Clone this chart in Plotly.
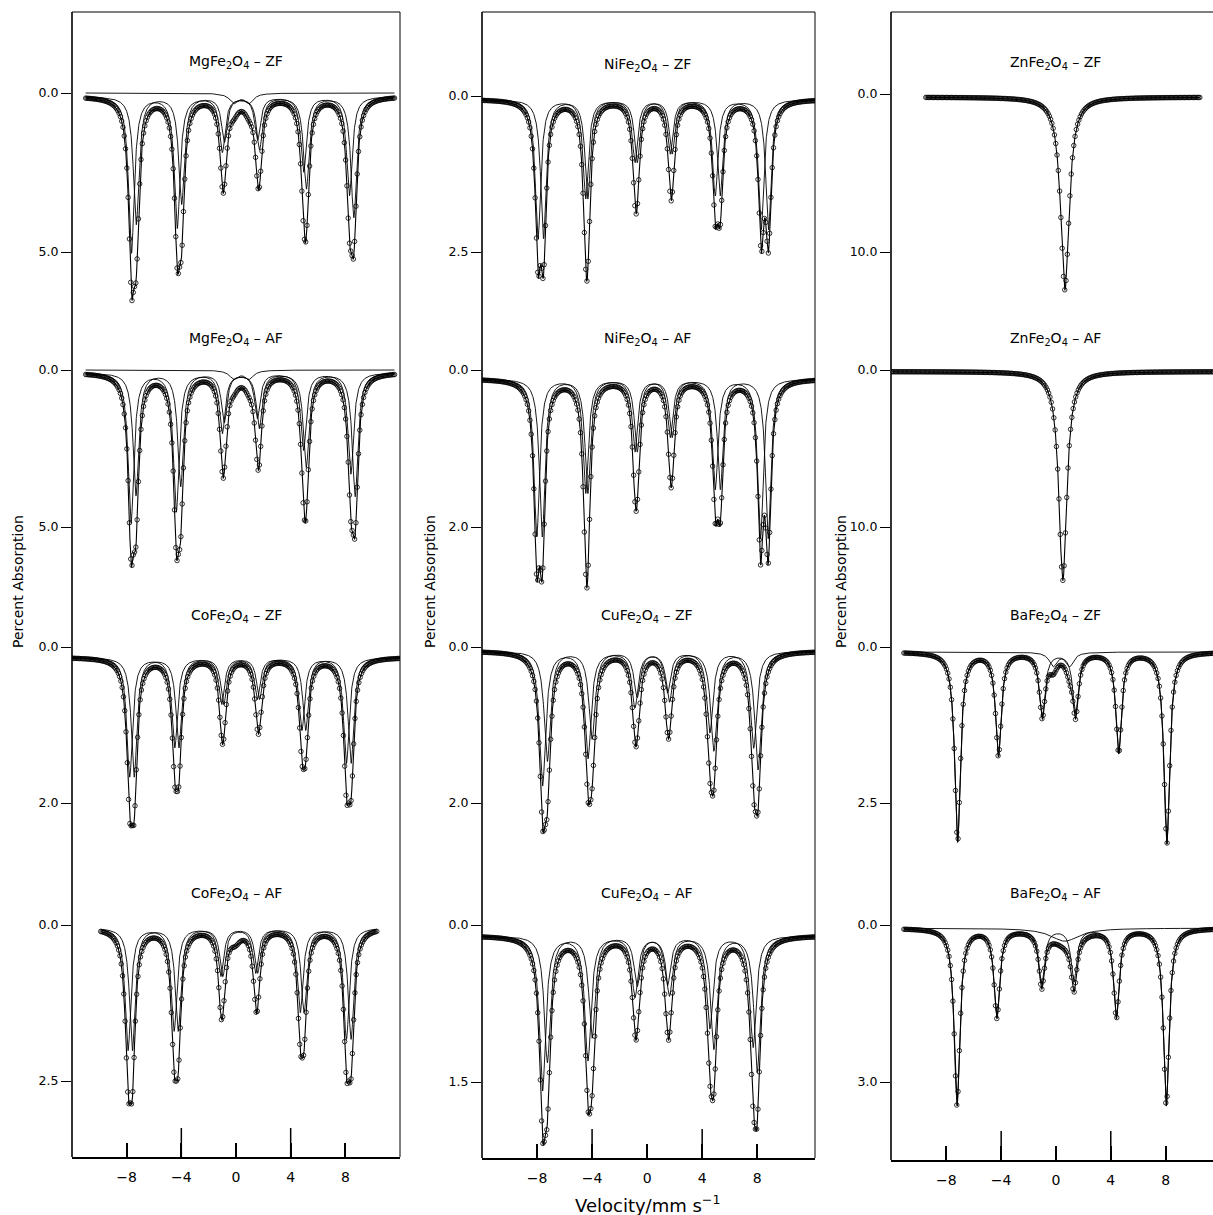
import numpy as np
import plotly.graph_objects as go

W, H = 1213, 1215
FONT = "DejaVu Sans"
DASH = "\u00a0\u2013\u00a0"

# ---------------- data ----------------
TITLES = [
    ["MgFe<sub>2</sub>O<sub>4</sub>" + DASH + "ZF", "MgFe<sub>2</sub>O<sub>4</sub>" + DASH + "AF",
     "CoFe<sub>2</sub>O<sub>4</sub>" + DASH + "ZF", "CoFe<sub>2</sub>O<sub>4</sub>" + DASH + "AF"],
    ["NiFe<sub>2</sub>O<sub>4</sub>" + DASH + "ZF", "NiFe<sub>2</sub>O<sub>4</sub>" + DASH + "AF",
     "CuFe<sub>2</sub>O<sub>4</sub>" + DASH + "ZF", "CuFe<sub>2</sub>O<sub>4</sub>" + DASH + "AF"],
    ["ZnFe<sub>2</sub>O<sub>4</sub>" + DASH + "ZF", "ZnFe<sub>2</sub>O<sub>4</sub>" + DASH + "AF",
     "BaFe<sub>2</sub>O<sub>4</sub>" + DASH + "ZF", "BaFe<sub>2</sub>O<sub>4</sub>" + DASH + "AF"],
]
# percent-absorption tick values of each spectrum
YTICKS = [[[0.0, 5.0], [0.0, 5.0], [0.0, 2.0], [0.0, 2.5]],
          [[0.0, 2.5], [0.0, 2.0], [0.0, 2.0], [0.0, 1.5]],
          [[0.0, 10.0], [0.0, 10.0], [0.0, 2.5], [0.0, 3.0]]]
VEL_TICKS = [-8, -4, 0, 4, 8]
VEL_LONG_TICKS = [-4, 4]

# velocity span of each recorded spectrum (mm/s)
V_SPAN = [[(-11.0, 11.6), (-11.0, 11.6), (-12.0, 12.0), (-9.9, 10.3)],
          [(-12.0, 12.2), (-12.0, 12.2), (-12.0, 12.2), (-12.0, 12.2)],
          [(-9.5, 10.5), (-12.0, 11.5), (-11.1, 11.5), (-11.1, 11.5)]]
# off-resonance absorption level
BASELINE = [[0.10, 0.08, 0.13, 0.04], [0.05, 0.11, 0.05, 0.10], [0.20, 0.10, 0.08, 0.06]]
# Lorentzian full width (mm/s)
LINE_W = [[0.50, 0.50, 0.50, 0.50], [0.48, 0.48, 0.55, 0.55], [0.75, 0.70, 0.50, 0.50]]
# fraction of each line given to sextet A
SHARE_A = [[0.45, 0.45, 0.50, 0.50], [0.50, 0.50, 0.45, 0.45], [1.0, 1.0, 1.0, 1.0]]

# line positions of sub-spectra A and B (mm/s) and total absorption at each line (%)
MG_ZF_A = [-7.30, -3.98, -0.85, 1.58, 4.95, 8.30]
MG_ZF_B = [-7.65, -4.30, -1.00, 1.72, 5.15, 8.62]
MG_ZF_D = [6.15, 5.50, 3.15, 3.05, 4.70, 5.05]
MG_AF_A = [-7.32, -4.05, -0.86, 1.56, 4.94, 8.40]
MG_AF_B = [-7.68, -4.37, -1.00, 1.70, 5.14, 8.72]
MG_AF_D = [5.85, 5.85, 3.45, 3.20, 4.85, 5.20]
CO_ZF_A = [-7.45, -4.18, -0.90, 1.56, 4.82, 8.08]
CO_ZF_B = [-7.78, -4.48, -1.05, 1.72, 5.10, 8.42]
CO_ZF_D = [2.28, 1.85, 1.25, 1.12, 1.57, 2.00]
CO_AF_A = [-7.58, -4.23, -0.97, 1.44, 4.70, 8.08]
CO_AF_B = [-7.90, -4.53, -1.11, 1.58, 4.98, 8.42]
CO_AF_D = [2.85, 2.50, 1.53, 1.42, 2.13, 2.50]
NI_ZF_A = [-7.93, -4.46, -0.88, 1.68, 4.95, 8.29]
NI_ZF_B = [-7.53, -4.31, -0.72, 1.82, 5.31, 8.82]
NI_ZF_D = [2.70, 2.97, 1.89, 1.68, 2.05, 1.95]
NI_AF_A = [-8.02, -4.46, -0.88, 1.68, 4.95, 8.24]
NI_AF_B = [-7.62, -4.31, -0.72, 1.82, 5.32, 8.80]
NI_AF_D = [2.50, 2.78, 1.80, 1.50, 1.90, 1.85]
CU_ZF_A = [-7.25, -4.00, -0.72, 1.48, 4.56, 7.74]
CU_ZF_B = [-7.60, -4.30, -0.88, 1.62, 4.85, 8.06]
CU_ZF_D = [2.30, 2.00, 1.28, 1.18, 1.89, 2.13]
CU_AF_A = [-7.25, -4.00, -0.72, 1.48, 4.56, 7.70]
CU_AF_B = [-7.60, -4.30, -0.88, 1.62, 4.85, 8.00]
CU_AF_D = [2.03, 1.79, 1.10, 1.10, 1.66, 1.94]
ZN_ZF_A = [0.65]
ZN_ZF_D = [12.4]
ZN_AF_A = [0.50]
ZN_AF_D = [13.4]
BA_ZF_A = [-7.18, -4.20, -1.00, 1.43, 4.58, 8.09]
BA_ZF_D = [3.13, 1.76, 1.16, 1.16, 1.71, 3.16]
BA_AF_A = [-7.22, -4.31, -1.04, 1.31, 4.41, 8.05]
BA_AF_D = [3.46, 1.79, 1.23, 1.29, 1.79, 3.46]

# central (paramagnetic) components: positions, depths, width
MG_ZF_X = ([-0.15, 0.95], [0.30, 0.30], 0.8)
MG_AF_X = ([-0.15, 0.95], [0.27, 0.27], 0.8)
CO_AF_X = ([-0.05], [0.15], 0.9)
BA_ZF_X = ([-0.20, 1.00], [0.22, 0.22], 0.7)
BA_AF_X = ([0.65], [0.25], 2.5)

# table built from the arrays: (A lines, B lines, depths, central comp, draw central, central from zero)
SPECTRA = [
    [(MG_ZF_A, MG_ZF_B, MG_ZF_D, MG_ZF_X, True, True),
     (MG_AF_A, MG_AF_B, MG_AF_D, MG_AF_X, True, True),
     (CO_ZF_A, CO_ZF_B, CO_ZF_D, None, False, False),
     (CO_AF_A, CO_AF_B, CO_AF_D, CO_AF_X, False, False)],
    [(NI_ZF_A, NI_ZF_B, NI_ZF_D, None, False, False),
     (NI_AF_A, NI_AF_B, NI_AF_D, None, False, False),
     (CU_ZF_A, CU_ZF_B, CU_ZF_D, None, False, False),
     (CU_AF_A, CU_AF_B, CU_AF_D, None, False, False)],
    [(ZN_ZF_A, None, ZN_ZF_D, None, False, False),
     (ZN_AF_A, None, ZN_AF_D, None, False, False),
     (BA_ZF_A, None, BA_ZF_D, BA_ZF_X, True, False),
     (BA_AF_A, None, BA_AF_D, BA_AF_X, True, False)],
]

# ---------------- layout constants (pixels) ----------------
PANEL_X = [(72, 400), (482, 815), (891, 1213)]
X_RANGE = [(-12.0, 12.0), (-12.0, 12.2), (-12.04, 11.46)]
HAS_RIGHT = [True, True, False]
PANEL_TOP = 12
PANEL_BOTTOM = [1157, 1158, 1160]
ZERO_PX = [[93, 370, 647, 925], [96, 370, 647, 925], [94, 370, 647, 925]]
TICK_PX = [[252, 527, 803, 1081], [252, 527, 803, 1082], [252, 527, 803, 1082]]
YTITLE_X = [18, 430, 841]
CHANNEL = 0.094


def lor(v, pos, depth, width):
    v = np.asarray(v, float)[:, None]
    pos = np.asarray(pos, float)[None, :]
    depth = np.asarray(depth, float)[None, :]
    return (depth / (1.0 + ((v - pos) / (0.5 * width)) ** 2)).sum(axis=1)


def px_x(p):
    return p / W


def px_y(p):
    return 1 - p / H


fig = go.Figure()
layout = dict(width=W, height=H, autosize=False, margin=dict(l=0, r=0, t=0, b=0),
              paper_bgcolor="white", plot_bgcolor="rgba(0,0,0,0)", showlegend=False,
              font=dict(family=FONT, color="black", size=12))
shapes, annotations = [], []

for c in range(3):
    xname = "x" if c == 0 else f"x{c + 1}"
    xkey = "xaxis" if c == 0 else f"xaxis{c + 1}"
    bottom_n = c * 4 + 4
    left, right = PANEL_X[c]
    layout[xkey] = dict(
        domain=[px_x(left), px_x(right)], range=list(X_RANGE[c]), anchor=f"y{bottom_n}",
        tickmode="array", tickvals=VEL_TICKS,
        ticktext=[("\u2212" + str(-t)) if t < 0 else str(t) for t in VEL_TICKS],
        ticks="inside", ticklen=14, tickwidth=1.5, tickcolor="black",
        showline=True, linewidth=2, linecolor="black", showgrid=False, zeroline=False,
        tickfont=dict(size=14, family=FONT), ticklabelstandoff=6)

    for r in range(4):
        n = c * 4 + r + 1
        yname = "y" if n == 1 else f"y{n}"
        ykey = "yaxis" if n == 1 else f"yaxis{n}"
        ticks = YTICKS[c][r]
        zero = ZERO_PX[c][r]
        ppu = (TICK_PX[c][r] - zero) / ticks[1]
        top_px = PANEL_TOP if r == 0 else zero - 80
        bot_px = PANEL_BOTTOM[c] if r == 3 else zero + 240
        layout[ykey] = dict(
            domain=[px_y(bot_px), px_y(top_px)],
            range=[(bot_px - zero) / ppu, (top_px - zero) / ppu],
            anchor=xname, tickmode="array", tickvals=ticks,
            ticktext=[f"{t:.1f}" for t in ticks],
            ticks="outside", ticklen=10, tickwidth=1.3, tickcolor="black",
            showline=False, showgrid=False, zeroline=False,
            tickfont=dict(size=12.5, family=FONT))

        a_pos, b_pos, depths, central, draw_central, central_zero = SPECTRA[c][r]
        base = BASELINE[c][r]
        w = LINE_W[c][r]
        share = SHARE_A[c][r]
        A = np.array(a_pos, float)
        B = None if b_pos is None else np.array(b_pos, float)
        targets = A if B is None else 0.5 * (A + B)
        extra_t = lor(targets, central[0], central[1], central[2]) if central else 0.0
        rhs = np.array(depths, float) - base - extra_t
        M = np.zeros((len(A), len(A)))
        for k in range(len(A)):
            col = share * lor(targets, [A[k]], [1.0], w)
            if B is not None:
                col = col + (1 - share) * lor(targets, [B[k]], [1.0], w)
            M[:, k] = col
        s = np.linalg.solve(M, rhs)
        dA = share * s
        dB = (1 - share) * s

        v0, v1 = V_SPAN[c][r]
        nch = int(round((v1 - v0) / CHANNEL)) + 1
        v = np.linspace(v0, v1, nch)
        vf = np.linspace(v0, v1, 1600)

        def model(vv):
            y = base + lor(vv, A, dA, w)
            if B is not None:
                y = y + lor(vv, B, dB, w)
            if central:
                y = y + lor(vv, central[0], central[1], central[2])
            return y

        fig.add_trace(go.Scatter(
            x=v, y=model(v), xaxis=xname, yaxis=yname, mode="markers",
            marker=dict(symbol="circle-open", size=4.5, color="black", line=dict(width=0.8)),
            hoverinfo="skip"))
        comps = []
        if B is not None:
            comps.append(base + lor(vf, A, dA, w))
            comps.append(base + lor(vf, B, dB, w))
        elif central and draw_central:
            comps.append(base + lor(vf, A, dA, w))
        if central and draw_central:
            comps.append((0.0 if central_zero else base) + lor(vf, central[0], central[1], central[2]))
        for comp in comps:
            fig.add_trace(go.Scatter(x=vf, y=comp, xaxis=xname, yaxis=yname, mode="lines",
                                     line=dict(color="black", width=0.9), hoverinfo="skip"))
        fig.add_trace(go.Scatter(x=vf, y=model(vf), xaxis=xname, yaxis=yname, mode="lines",
                                 line=dict(color="black", width=1.1), hoverinfo="skip"))

        annotations.append(dict(
            text=TITLES[c][r], xref=xname, yref=yname, x=0, y=-31 / ppu,
            showarrow=False, font=dict(size=14, family=FONT), xanchor="center", yanchor="middle"))

    # panel frame
    bottom = PANEL_BOTTOM[c]
    shapes.append(dict(type="line", xref="paper", yref="paper", x0=px_x(left), x1=px_x(left),
                       y0=px_y(PANEL_TOP), y1=px_y(bottom), line=dict(color="black", width=1.6)))
    shapes.append(dict(type="line", xref="paper", yref="paper", x0=px_x(left), x1=px_x(right),
                       y0=px_y(PANEL_TOP), y1=px_y(PANEL_TOP), line=dict(color="black", width=1.2)))
    if HAS_RIGHT[c]:
        shapes.append(dict(type="line", xref="paper", yref="paper", x0=px_x(right), x1=px_x(right),
                           y0=px_y(PANEL_TOP), y1=px_y(bottom), line=dict(color="black", width=1.0)))
    for t in VEL_LONG_TICKS:
        shapes.append(dict(type="line", xref=xname, yref="paper", x0=t, x1=t,
                           y0=px_y(bottom), y1=px_y(bottom - 29), line=dict(color="black", width=1.5)))

    annotations.append(dict(text="Percent Absorption", xref="paper", yref="paper",
                            x=px_x(YTITLE_X[c]), y=px_y(582), textangle=-90, showarrow=False,
                            font=dict(size=14, family=FONT), xanchor="center", yanchor="middle"))

annotations.append(dict(text="Velocity/mm s<sup>\u22121</sup>", xref="paper", yref="paper",
                        x=px_x(647), y=px_y(1204), showarrow=False,
                        font=dict(size=18, family=FONT), xanchor="center", yanchor="middle"))

layout["shapes"] = shapes
layout["annotations"] = annotations
fig.update_layout(**layout)
fig.write_html("out.html")
